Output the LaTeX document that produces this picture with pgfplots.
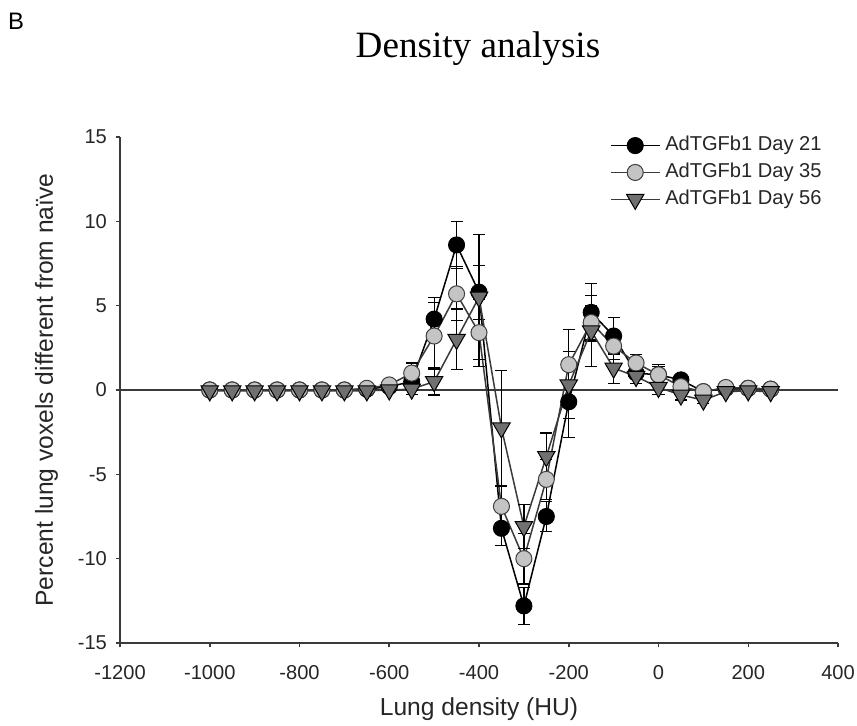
\documentclass[border=0pt]{standalone}
\usepackage{pgfplots}
\pgfplotsset{compat=1.18}
\usepackage{pgfplotstable}
\usepackage{fontspec}
\setmainfont{Liberation Sans}
\newfontfamily\serifttl{Liberation Serif}

\definecolor{lgray}{HTML}{C4C4C4}
\definecolor{dgray}{HTML}{707070}
\definecolor{lnline}{HTML}{3A3A3A}

% x  y  err
\pgfplotstableread{
x y e
-1000 0 0
-950 0 0
-900 0 0
-850 0 0
-800 0 0
-750 0 0
-700 0 0
-650 0.05 0
-600 0.2 0.2
-550 0.5 0.5
-500 4.2 1.3
-450 8.6 1.4
-400 5.8 1.6
-350 -8.2 1.0
-300 -12.8 1.1
-250 -7.5 0.9
-200 -0.7 2.1
-150 4.6 1.7
-100 3.2 1.1
-50 1.0 0.6
0 0.9 0.5
50 0.6 0.3
100 -0.1 0.2
150 0.1 0.1
200 0.1 0.1
250 0.05 0.1
}\dayone

\pgfplotstableread{
x y e
-1000 0 0
-950 0 0
-900 0 0
-850 0 0
-800 0 0
-750 0 0
-700 0 0
-650 0.1 0
-600 0.3 0.2
-550 1.0 0.6
-500 3.2 2.0
-450 5.7 1.6
-400 3.4 2.0
-350 -6.9 1.2
-300 -10.0 1.5
-250 -5.3 1.2
-200 1.5 2.1
-150 4.0 1.0
-100 2.6 0.8
-50 1.6 0.5
0 0.9 0.6
50 0.2 0.3
100 -0.1 0.2
150 0.15 0.1
200 0.1 0.1
250 0.05 0.1
}\daytwo

\pgfplotstableread{
x y e
-1000 -0.05 0
-950 -0.05 0
-900 -0.05 0
-850 -0.05 0
-800 -0.05 0
-750 -0.05 0
-700 -0.05 0
-650 -0.05 0
-600 0 0.1
-550 0.05 0.3
-500 0.5 0.8
-450 3.0 1.8
-400 5.5 3.7
-350 -2.25 3.4
-300 -8.1 1.3
-250 -3.95 1.4
-200 0.3 2.0
-150 3.5 2.1
-100 1.3 0.9
-50 0.8 0.4
0 0.15 0.4
50 -0.3 0.3
100 -0.6 0.2
150 -0.1 0.1
200 -0.05 0.1
250 -0.1 0.1
}\daythree

\pgfplotsset{
  leg/.style={legend image code/.code={%
    \draw[mark repeat=2,mark phase=2,##1] plot coordinates {(0cm,0cm) (0.34cm,0cm) (0.68cm,0cm)};}},
}

\begin{document}
\begin{tikzpicture}
\useasboundingbox (-1.68,-1.162) rectangle (10.318,9.002);
\begin{axis}[
  at={(0,0)}, anchor=south west,
  width=10.052cm, height=7.084cm,
  scale only axis,
  xmin=-1200, xmax=400,
  ymin=-15, ymax=15,
  xtick={-1200,-1000,...,400},
  ytick={-15,-10,...,15},
  axis x line*=bottom,
  axis y line*=left,
  axis line style={-, lnline, line width=0.6pt},
  tick align=outside,
  major tick length=0.06cm,
  tick style={lnline, line width=0.6pt},
  /pgf/number format/assume math mode=true,
  /pgf/number format/1000 sep={},
  ticklabel style={font=\fontsize{8}{9.6}\selectfont, text=black!85},
  xticklabel style={yshift=-0.13cm},
  xlabel={Lung density (HU)},
  ylabel={Percent lung voxels different from naïve},
  every axis x label/.style={at={(axis description cs:0.5,0)}, anchor=center, yshift=-0.93cm, font=\fontsize{9.8}{11}\selectfont, text=black!85},
  every axis y label/.style={at={(axis description cs:0,0.5)}, anchor=center, xshift=-1.03cm, rotate=90, font=\fontsize{9.8}{11}\selectfont, text=black!85},
  legend style={at={(0.682,1.012)}, anchor=north west, draw=none, fill=none,
    font=\fontsize{8}{9.6}\selectfont, row sep=-0.02cm, inner sep=0pt,
    nodes={inner sep=0.07cm, text=black!85}},
  legend cell align=left,
  leg,
  error bars/y dir=both,
  error bars/y explicit,
  error bars/error bar style={black, line width=0.5pt},
  error bars/error mark options={rotate=90, mark size=2.4pt, black, line width=0.5pt},
  clip=false,
]
\addplot[lnline, line width=0.7pt, forget plot] coordinates {(-1200,0) (400,0)};
\addplot[black, line width=0.6pt, mark=*, mark size=3.2pt,
  mark options={fill=black, draw=black, line width=0.4pt}]
  table[x=x, y=y, y error=e] {\dayone};
\addlegendentry{AdTGFb1 Day 21}
\addplot[lnline, line width=0.6pt, mark=*, mark size=3.2pt,
  mark options={fill=lgray, draw=black!75, line width=0.4pt}]
  table[x=x, y=y, y error=e] {\daytwo};
\addlegendentry{AdTGFb1 Day 35}
\addplot[lnline, line width=0.6pt, mark=triangle*, mark size=4pt,
  mark options={fill=dgray, draw=black, line width=0.4pt, rotate=180}]
  table[x=x, y=y, y error=e] {\daythree};
\addlegendentry{AdTGFb1 Day 56}
\end{axis}
\node[font=\serifttl\fontsize{14.8}{17}\selectfont] at (5.012,8.32) {Density analysis};
\node[font=\fontsize{9.5}{11}\selectfont] at (-1.456,8.708) {B};
\end{tikzpicture}
\end{document}
